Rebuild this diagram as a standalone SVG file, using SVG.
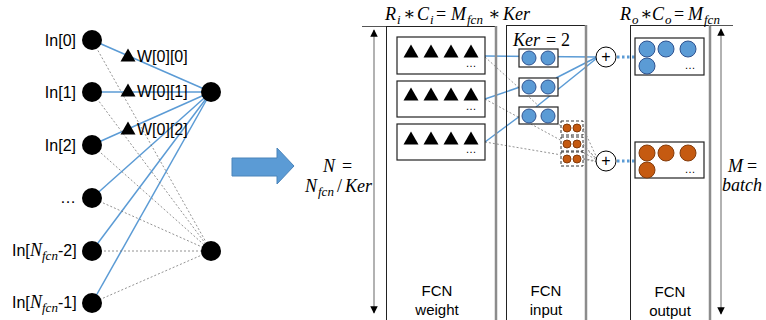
<svg xmlns="http://www.w3.org/2000/svg" xmlns:xlink="http://www.w3.org/1999/xlink" width="766" height="320" viewBox="0 0 766 320">
  <style>
    .lbl { font-family: "Liberation Sans", Arial, sans-serif; font-size: 16px; fill: #000; }
    .cap { font-family: "Liberation Sans", Arial, sans-serif; font-size: 15px; fill: #000; text-anchor: middle; }
    .math { font-family: "Liberation Serif", "DejaVu Serif", serif; font-style: italic; font-size: 18px; fill: #000; }
    .op { font-style: normal; }
    .sub { font-size: 13px; }
    .dots { font-family: "Liberation Sans", Arial, sans-serif; font-size: 11px; fill: #000; text-anchor: middle; }
    .blue { stroke: #5B9BD5; stroke-width: 1.5; fill: none; }
    .gray { stroke: #777; stroke-width: 0.8; stroke-dasharray: 2 2; fill: none; }
    .bdots { stroke: #5B9BD5; stroke-width: 3; stroke-dasharray: 2.5 2.5; fill: none; }
    .node { fill: #000; }
    .bc { fill: #5B9BD5; stroke: #2F528F; stroke-width: 1; }
    .oc { fill: #C55A11; stroke: #843C0C; stroke-width: 1; }
    .box { fill: #fff; stroke: #222; stroke-width: 1.2; }
    .col { fill: none; stroke: #222; stroke-width: 1; }
    .edge { stroke: #8c8c8c; stroke-width: 2.5; }
    .dashbox { fill: #fff; stroke: #333; stroke-width: 1; stroke-dasharray: 3 2; }
    .dim { stroke: #999; stroke-width: 1.5; fill: none; }
    .tick { stroke: #555; stroke-width: 1; }
  </style>
  <defs>
    <polygon id="tri" points="-7.5,6.5 7.5,6.5 0,-6.5" fill="#000"/>
    <marker id="ah" viewBox="0 0 10 10" refX="9" refY="5" markerWidth="5" markerHeight="5" orient="auto-start-reverse">
      <path d="M0,0 L10,5 L0,10 z" fill="#000"/>
    </marker>
  </defs>

  <!-- connectors -->
  <g id="connectors">
    <!-- fully connected layer: solid lines to the first output neuron -->
    <line class="blue" x1="92" y1="40" x2="211" y2="92"/>
    <line class="blue" x1="92" y1="92" x2="211" y2="92"/>
    <line class="blue" x1="92" y1="145" x2="211" y2="92"/>
    <line class="blue" x1="92" y1="198" x2="211" y2="92"/>
    <line class="blue" x1="92" y1="251" x2="211" y2="92"/>
    <line class="blue" x1="92" y1="303" x2="211" y2="92"/>
    <!-- dotted lines to the last output neuron -->
    <line class="gray" x1="92" y1="40" x2="211" y2="251"/>
    <line class="gray" x1="92" y1="92" x2="211" y2="251"/>
    <line class="gray" x1="92" y1="145" x2="211" y2="251"/>
    <line class="gray" x1="92" y1="198" x2="211" y2="251"/>
    <line class="gray" x1="92" y1="251" x2="211" y2="251"/>
    <line class="gray" x1="92" y1="303" x2="211" y2="251"/>

    <!-- weight rows to the first adder -->
    <line class="blue" x1="485" y1="56" x2="596" y2="57"/>
    <line class="blue" x1="485" y1="99" x2="520" y2="87"/>
    <line class="blue" x1="556" y1="78" x2="597" y2="57"/>
    <line class="blue" x1="485" y1="142" x2="520" y2="116"/>
    <line class="blue" x1="536" y1="107" x2="597" y2="58"/>
    <!-- weight rows to the last adder -->
    <line class="gray" x1="485" y1="57" x2="597" y2="159"/>
    <line class="gray" x1="485" y1="99" x2="597" y2="160"/>
    <line class="gray" x1="485" y1="142" x2="597" y2="161"/>
    <line class="gray" x1="583" y1="128" x2="597" y2="158"/>
    <line class="gray" x1="583" y1="144" x2="597" y2="160"/>
    <line class="gray" x1="583" y1="159" x2="597" y2="162"/>
    <!-- adders to output rows -->
    <line class="bdots" x1="617" y1="57" x2="635" y2="57"/>
    <line class="bdots" x1="617" y1="161" x2="635" y2="161"/>
  </g>

  <!-- left: input neurons -->
  <g id="in0"><circle class="node" cx="92" cy="40" r="10"/><text class="lbl" x="76" y="46" text-anchor="end">In[0]</text></g>
  <g id="in1"><circle class="node" cx="92" cy="92" r="10"/><text class="lbl" x="76" y="98" text-anchor="end">In[1]</text></g>
  <g id="in2"><circle class="node" cx="92" cy="145" r="10"/><text class="lbl" x="76" y="151" text-anchor="end">In[2]</text></g>
  <g id="in-more"><circle class="node" cx="92" cy="198" r="10"/><text class="lbl" x="76" y="203" text-anchor="end">…</text></g>
  <g id="in-n2"><circle class="node" cx="92" cy="251" r="10"/>
    <text class="lbl" x="12" y="256">In[</text>
    <text class="math" x="30" y="256">N<tspan class="sub" x="42" dy="4">fcn</tspan></text>
    <text class="lbl" x="58" y="256">-2]</text>
  </g>
  <g id="in-n1"><circle class="node" cx="92" cy="303" r="10"/>
    <text class="lbl" x="12" y="308">In[</text>
    <text class="math" x="30" y="308">N<tspan class="sub" x="42" dy="4">fcn</tspan></text>
    <text class="lbl" x="58" y="308">-1]</text>
  </g>

  <!-- left: weights on the solid edges -->
  <g id="w00"><use xlink:href="#tri" x="128" y="55"/><text class="lbl" x="137" y="62">W[0][0]</text></g>
  <g id="w01"><use xlink:href="#tri" x="128" y="90"/><text class="lbl" x="137" y="97">W[0][1]</text></g>
  <g id="w02"><use xlink:href="#tri" x="128" y="128"/><text class="lbl" x="137" y="135">W[0][2]</text></g>

  <!-- left: output neurons -->
  <g id="out0"><circle class="node" cx="211" cy="92" r="10"/></g>
  <g id="out1"><circle class="node" cx="211" cy="251" r="10"/></g>

  <!-- mapping arrow -->
  <g id="map-arrow">
    <polygon points="232,158 277,158 277,148 294,166 277,184 277,176 232,176" fill="#5B9BD5" stroke="#4A84BA" stroke-width="1"/>
  </g>

  <!-- dimension: N rows -->
  <g id="dim-n">
    <line class="tick" x1="362" y1="26.5" x2="386" y2="26.5"/>
    <line class="dim" x1="374" y1="30" x2="374" y2="313" marker-start="url(#ah)" marker-end="url(#ah)"/>
    <text class="math" x="323" y="172">N</text><text class="math op" x="342" y="172">=</text>
    <text class="math" x="305" y="192">N<tspan class="sub" x="318" dy="4">fcn</tspan><tspan class="op" x="337" dy="-4">/</tspan><tspan x="345">Ker</tspan></text>
  </g>

  <!-- FCN weight column -->
  <g id="fcn-weight">
    <rect class="col" x="386.5" y="26.5" width="110" height="300"/>
    <line class="edge" x1="496" y1="26" x2="496" y2="320"/>
    <text class="math" x="385" y="20">R<tspan class="sub" x="397" dy="4">i</tspan><tspan class="op" x="403" dy="-4">∗</tspan><tspan x="417">C</tspan><tspan class="sub" x="430" dy="4">i</tspan><tspan class="op" x="436" dy="-4">=</tspan><tspan x="451">M</tspan><tspan class="sub" x="467" dy="4">fcn</tspan><tspan class="op" x="488" dy="-4">∗</tspan><tspan x="503">Ker</tspan></text>
    <rect class="box" x="397" y="37" width="88" height="37"/>
    <use xlink:href="#tri" x="411" y="51"/><use xlink:href="#tri" x="431" y="51"/><use xlink:href="#tri" x="451" y="51"/><use xlink:href="#tri" x="471" y="51"/>
    <text class="dots" x="471" y="67">…</text>
    <rect class="box" x="397" y="81" width="88" height="36"/>
    <use xlink:href="#tri" x="411" y="94"/><use xlink:href="#tri" x="431" y="94"/><use xlink:href="#tri" x="451" y="94"/><use xlink:href="#tri" x="471" y="94"/>
    <text class="dots" x="471" y="110">…</text>
    <rect class="box" x="397" y="124" width="88" height="36"/>
    <use xlink:href="#tri" x="411" y="138"/><use xlink:href="#tri" x="431" y="138"/><use xlink:href="#tri" x="451" y="138"/><use xlink:href="#tri" x="471" y="138"/>
    <text class="dots" x="471" y="153">…</text>
    <text class="cap" x="437" y="296">FCN</text>
    <text class="cap" x="437" y="315">weight</text>
  </g>

  <!-- FCN input column -->
  <g id="fcn-input">
    <rect class="col" x="506.5" y="25.5" width="80" height="300"/>
    <line class="edge" x1="586" y1="25" x2="586" y2="320"/>
    <text class="math" x="513" y="46">Ker<tspan class="op" x="546">=</tspan><tspan class="op" x="561">2</tspan></text>
    <rect class="box" x="519" y="49" width="39" height="18"/>
    <circle class="bc" cx="529" cy="58" r="7"/><circle class="bc" cx="548" cy="58" r="7"/>
    <rect class="box" x="519" y="78" width="39" height="18"/>
    <circle class="bc" cx="529" cy="87" r="7"/><circle class="bc" cx="548" cy="87" r="7"/>
    <rect class="box" x="519" y="107" width="39" height="17"/>
    <circle class="bc" cx="529" cy="116" r="7"/><circle class="bc" cx="548" cy="116" r="7"/>
    <rect class="dashbox" x="561" y="121" width="22" height="14"/>
    <circle class="oc" cx="567" cy="128" r="4"/><circle class="oc" cx="577" cy="128" r="4"/>
    <rect class="dashbox" x="561" y="137" width="22" height="14"/>
    <circle class="oc" cx="567" cy="144" r="4"/><circle class="oc" cx="577" cy="144" r="4"/>
    <rect class="dashbox" x="561" y="152" width="22" height="14"/>
    <circle class="oc" cx="567" cy="159" r="4"/><circle class="oc" cx="577" cy="159" r="4"/>
    <text class="cap" x="546" y="296">FCN</text>
    <text class="cap" x="546" y="315">input</text>
  </g>

  <!-- adders -->
  <g id="add0"><circle cx="606" cy="57" r="10" fill="#fff" stroke="#000" stroke-width="1"/><text class="lbl" x="606" y="62" text-anchor="middle" font-size="14">+</text></g>
  <g id="add1"><circle cx="606" cy="161" r="10" fill="#fff" stroke="#000" stroke-width="1"/><text class="lbl" x="606" y="166" text-anchor="middle" font-size="14">+</text></g>

  <!-- FCN output column -->
  <g id="fcn-output">
    <rect class="col" x="630.5" y="25.5" width="80" height="300"/>
    <line class="edge" x1="710" y1="25" x2="710" y2="320"/>
    <text class="math" x="620" y="20">R<tspan class="sub" x="632" dy="4">o</tspan><tspan class="op" x="640" dy="-4">∗</tspan><tspan x="652">C</tspan><tspan class="sub" x="665" dy="4">o</tspan><tspan class="op" x="674" dy="-4">=</tspan><tspan x="688">M</tspan><tspan class="sub" x="704" dy="4">fcn</tspan></text>
    <rect class="box" x="635" y="38" width="69" height="37"/>
    <circle class="bc" cx="647" cy="49" r="8"/><circle class="bc" cx="666" cy="49" r="8"/><circle class="bc" cx="688" cy="49" r="8"/>
    <circle class="bc" cx="647" cy="66" r="8"/>
    <text class="dots" x="690" y="69">…</text>
    <rect class="box" x="635" y="142" width="69" height="36"/>
    <circle class="oc" cx="647" cy="153" r="8"/><circle class="oc" cx="666" cy="153" r="8"/><circle class="oc" cx="688" cy="153" r="8"/>
    <circle class="oc" cx="647" cy="170" r="8"/>
    <text class="dots" x="690" y="173">…</text>
    <text class="cap" x="670" y="297">FCN</text>
    <text class="cap" x="670" y="316">output</text>
  </g>

  <!-- dimension: M = batch -->
  <g id="dim-m">
    <line class="tick" x1="710" y1="25.5" x2="733" y2="25.5"/>
    <line class="dim" x1="721" y1="29" x2="721" y2="314" stroke="#777" marker-start="url(#ah)" marker-end="url(#ah)"/>
    <text class="math" x="728" y="172">M<tspan class="op" x="747">=</tspan></text>
    <text class="math" x="722" y="191">batch</text>
  </g>
</svg>
